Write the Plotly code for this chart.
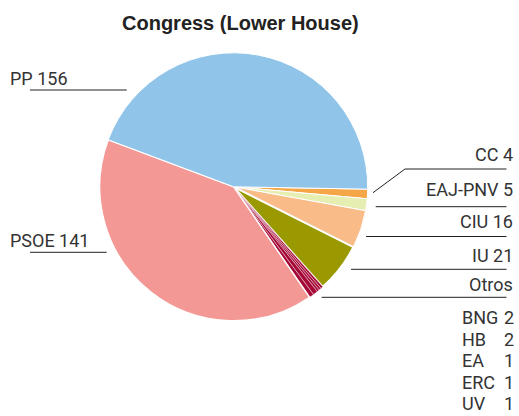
import plotly.graph_objects as go

W, H = 519, 416

# Data (listed clockwise starting just below 3 o'clock)
parties = ["CC", "EAJ-PNV", "CIU", "IU", "UV", "ERC", "EA", "HB", "BNG", "PSOE", "PP"]
seats = [4, 5, 16, 21, 1, 1, 1, 2, 2, 141, 156]
colors = ["#F5A646", "#E6EEB1", "#F9BC89", "#9A9A00",
          "#A50836", "#A50836", "#A50836", "#A50836", "#A50836",
          "#F49896", "#90C4E9"]
border_widths = [1, 1, 1, 2, 0.4, 0.4, 0.4, 0.4, 0.4, 1.5, 1]

main_labels = ["PP 156", "PSOE 141", "CC 4", "EAJ-PNV 5", "CIU 16", "IU 21", "Otros"]
otros_names = ["BNG", "HB", "EA", "ERC", "UV"]
otros_seats = [2, 2, 1, 1, 1]


def px(x):
    return x / W


def py(y):
    return 1 - y / H


cx, cy, r = 233.7, 186.8, 134.0

fig = go.Figure(go.Pie(
    labels=parties,
    values=seats,
    sort=False,
    direction="clockwise",
    rotation=91,
    marker=dict(colors=colors, line=dict(color="white", width=border_widths)),
    textinfo="none",
    hoverinfo="label+value",
    showlegend=False,
    domain=dict(x=[px(cx - r), px(cx + r)], y=[py(cy + r), py(cy - r)]),
))

ann = []
shapes = []
lab_font = dict(family="Roboto", size=18, color="#333333")
line_style = dict(color="#222222", width=1)

ann.append(dict(text="<b>Congress (Lower House)</b>", x=px(240), y=py(23), xref="paper", yref="paper",
                xanchor="center", yanchor="middle", showarrow=False,
                font=dict(family="Liberation Sans", size=20, color="#222222")))

# left labels
left = [(main_labels[0], 78.5, 90, 30, 126.7), (main_labels[1], 240.5, 252.3, 30, 106.7)]
for t, ty, ly, x0, x1 in left:
    ann.append(dict(text=t, x=px(8), y=py(ty), xref="paper", yref="paper", xanchor="left",
                    yanchor="middle", showarrow=False, font=lab_font))
    shapes.append(dict(type="line", xref="paper", yref="paper", x0=px(x0), x1=px(x1),
                       y0=py(ly), y1=py(ly), line=line_style))

# right labels
right = [(main_labels[2], 154, 169, 405), (main_labels[3], 189.5, 206.7, 375.7),
         (main_labels[4], 221.5, 236.5, 366), (main_labels[5], 255, 269.3, 351),
         (main_labels[6], 284, 297.3, 321.7)]
for t, ty, ly, x0 in right:
    ann.append(dict(text=t, x=px(515), y=py(ty), xref="paper", yref="paper", xanchor="right",
                    yanchor="middle", showarrow=False, font=lab_font))
    shapes.append(dict(type="line", xref="paper", yref="paper", x0=px(x0), x1=px(506.5),
                       y0=py(ly), y1=py(ly), line=line_style))
# diagonal leader for CC
shapes.append(dict(type="line", xref="paper", yref="paper", x0=px(373), x1=px(405),
                   y0=py(192.7), y1=py(169), line=line_style))

# Otros breakdown
for i, (n, s) in enumerate(zip(otros_names, otros_seats)):
    yy = 317.5 + i * 21.5
    ann.append(dict(text=n, x=px(460), y=py(yy), xref="paper", yref="paper", xanchor="left",
                    yanchor="middle", showarrow=False, font=lab_font))
    ann.append(dict(text=str(s), x=px(516), y=py(yy), xref="paper", yref="paper", xanchor="right",
                    yanchor="middle", showarrow=False, font=lab_font))

fig.update_layout(
    width=W, height=H,
    margin=dict(l=0, r=0, t=0, b=0),
    paper_bgcolor="white",
    plot_bgcolor="white",
    annotations=ann,
    shapes=shapes,
)

fig.write_html("out.html",
               config={"displayModeBar": False},
               post_script="document.body.style.margin='0';document.body.style.overflow='hidden';")
